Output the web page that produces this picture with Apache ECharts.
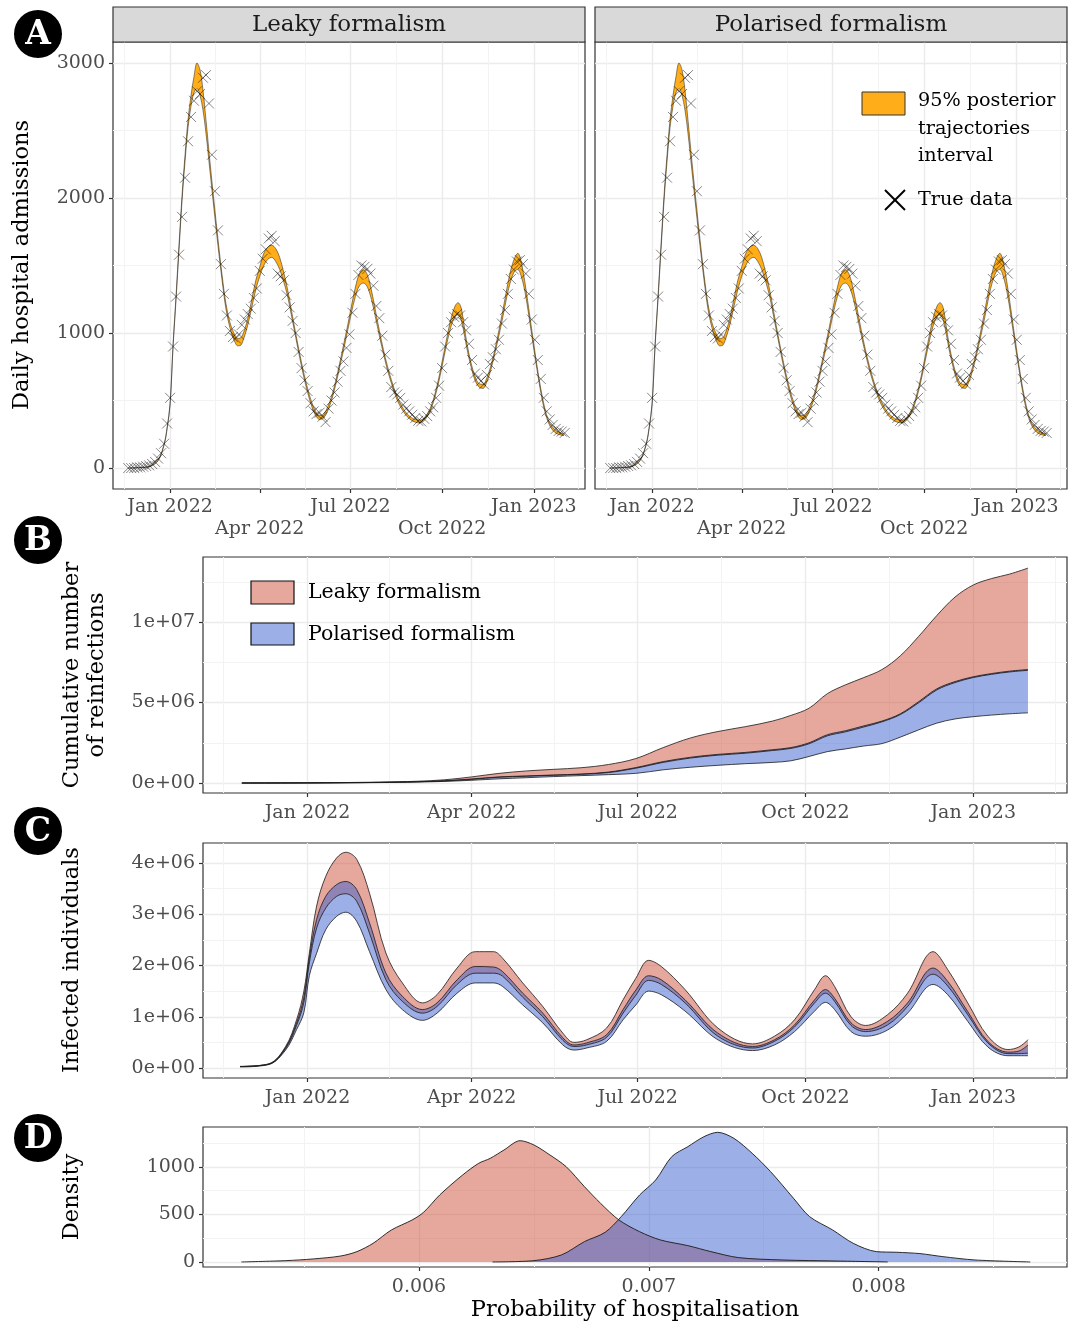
<!DOCTYPE html>
<html>
<head>
<meta charset="utf-8" />
<title>Admissions, reinfections and infections</title>
<script src="https://cdn.jsdelivr.net/npm/echarts@6/dist/echarts.min.js"></script>
<style>
  html, body { margin: 0; padding: 0; background: #fff; }
  #main { width: 1077px; height: 1325px; }
</style>
</head>
<body>
<div id="main"></div>
<script type="text/javascript">

var FONT = "'DejaVu Serif', serif";
var DAY = 86400000;
var T0 = Date.UTC(2022, 0, 1);
function t(d) { return T0 + d * DAY; }

// date axis: days after 1 Jan 2022
var monthDays = [0, 90, 181, 273, 365];
var monthLabels = ['Jan 2022', 'Apr 2022', 'Jul 2022', 'Oct 2022', 'Jan 2023'];
var minorDays = [-46, 45, 135.5, 227, 319, 410];
var dayMin = -57.3, dayMax = 416.4;

// ---- panel A : daily hospital admissions ----
var obsStart = -42, obsStep = 3;   // observations every 3 days
var obsValues = [0,0,0,5,5,10,15,20,30,45,70,110,180,330,
  520,900,1270,1580,1860,2150,2420,2600,2720,2790,2770,2890,2910,2700,2320,2050,1760,1510,1290,1130,
  1015,970,960,990,1060,1100,1140,1180,1260,1330,1460,1550,1620,1700,1720,1680,1440,1420,1390,1280,
  1190,1090,1000,860,740,650,570,480,420,400,410,380,340,440,500,560,640,720,790,890,990,
  1150,1290,1430,1500,1490,1475,1440,1350,1200,1110,980,840,720,600,560,545,520,470,440,420,
  395,370,350,345,365,385,420,450,520,610,740,900,1000,1080,1120,1140,1130,1080,1020,920,
  800,700,670,645,620,690,770,820,880,950,1070,1170,1290,1400,1470,1530,1540,1510,1440,1290,
  1100,950,800,660,520,420,360,320,290,275,270,260];

var ribDays = [-42,-30,-20,-12,-6,-3,0,3,6,9,12,15,18,21,24,27,30,33,36,40,44,48,52,56,60,64,68,71,74,78,
  82,86,90,94,98,102,106,110,114,118,122,126,130,134,138,142,146,150,154,158,162,166,170,174,178,182,186,190,194,198,
  202,206,210,214,218,222,226,230,234,238,242,246,250,254,258,262,266,270,274,278,282,286,289,292,295,298,302,306,310,314,
  318,322,326,330,334,338,342,346,349,352,356,360,364,368,372,376,380,384,388,392,395];
var ribLow = [0,3,12,55,170,290,470,900,1250,1620,1980,2270,2520,2680,2780,2810,2760,2650,2480,2200,
  1920,1650,1400,1180,1040,950,905,910,960,1060,1190,1320,1420,1500,1545,1560,1530,1470,1380,1270,
  1120,970,820,680,560,460,390,360,370,420,500,610,740,870,1010,1150,1270,1350,1370,1340,
  1250,1120,980,850,730,630,540,470,420,380,355,340,335,345,380,440,530,650,790,930,
  1050,1120,1135,1100,1000,880,750,650,600,590,640,730,850,980,1120,1270,1390,1460,1470,1430,
  1310,1130,930,740,560,420,330,280,255,245,240];
var ribHigh = [0,5,15,60,180,300,480,920,1280,1660,2020,2320,2580,2760,2900,3000,2950,2800,2580,2270,
  1980,1700,1440,1220,1080,1000,960,965,1010,1110,1250,1390,1490,1590,1635,1650,1625,1560,1450,1320,
  1160,1000,850,710,590,490,420,390,400,450,530,640,770,910,1050,1200,1340,1440,1470,1430,
  1320,1170,1020,880,760,655,565,495,440,400,375,360,355,365,400,460,555,680,825,975,
  1110,1200,1225,1190,1060,920,780,680,625,620,670,760,880,1020,1170,1330,1470,1560,1590,1540,
  1380,1180,970,770,590,445,350,300,275,260,255];

// ---- panel B : cumulative reinfections (millions) ----
var cumDays = [-36,-20,0,20,40,60,75,90,105,120,135,150,165,180,195,210,225,240,255,265,275,285,295,305,315,325,335,345,355,365,375,385,395];
var cumLeakyHigh = [0,0.005,0.01,0.03,0.06,0.11,0.2,0.38,0.6,0.75,0.85,0.95,1.15,1.52,2.2,2.8,3.2,3.5,3.85,4.2,4.65,5.55,6.1,6.55,7.05,7.9,9.1,10.4,11.55,12.3,12.7,12.98,13.35];
var cumLeakyLow = [0,0.003,0.007,0.018,0.037,0.075,0.13,0.23,0.36,0.42,0.48,0.54,0.65,0.92,1.28,1.55,1.73,1.85,2.02,2.15,2.44,2.93,3.18,3.48,3.8,4.25,4.98,5.78,6.24,6.55,6.75,6.9,7.0];
var cumPolHigh = [0,0.003,0.008,0.02,0.04,0.08,0.14,0.25,0.38,0.44,0.5,0.56,0.68,0.96,1.33,1.6,1.78,1.9,2.07,2.2,2.5,3.0,3.25,3.55,3.85,4.3,5.05,5.85,6.3,6.6,6.8,6.95,7.05];
var cumPolLow = [0,0.002,0.006,0.015,0.03,0.06,0.1,0.17,0.26,0.33,0.4,0.46,0.52,0.6,0.82,0.98,1.1,1.2,1.28,1.38,1.65,1.95,2.12,2.3,2.45,2.85,3.3,3.72,3.98,4.12,4.22,4.3,4.36];

// ---- panel C : infected individuals (millions) ----
var infDays = [-37,-21,-12,-6,-2,1,5,10,16,21,27,34,43,52,63,71,82,92,102,107,118,129,140,146,153,164,173,180,187,194,
  207,225,244,256,267,278,284,289,298,306,318,329,343,351,362,373,384,390,395];
var infLeakyHigh = [0.03,0.085,0.42,0.94,1.5,2.24,3.16,3.74,4.1,4.21,4.07,3.41,2.24,1.66,1.27,1.43,1.95,2.27,2.27,2.14,
  1.66,1.2,0.68,0.5,0.55,0.78,1.33,1.75,2.1,1.98,1.53,0.78,0.47,0.62,0.94,1.53,1.8,1.59,1.0,0.83,
  1.04,1.46,2.27,1.92,1.27,0.62,0.36,0.41,0.55];
var infPolHigh = [0.03,0.08,0.4,0.88,1.38,2.15,2.9,3.35,3.58,3.64,3.48,2.83,1.85,1.4,1.14,1.27,1.72,1.98,1.97,1.88,
  1.46,1.07,0.59,0.45,0.49,0.65,1.14,1.52,1.8,1.72,1.33,0.68,0.42,0.55,0.84,1.33,1.53,1.36,0.88,0.75,
  0.91,1.27,1.95,1.69,1.1,0.52,0.31,0.33,0.45];
var infLeakyLow = [0.03,0.075,0.38,0.83,1.28,2.05,2.73,3.12,3.35,3.4,3.25,2.63,1.72,1.3,1.07,1.2,1.63,1.85,1.85,1.79,
  1.38,1.0,0.54,0.42,0.45,0.6,1.07,1.42,1.71,1.63,1.27,0.62,0.39,0.52,0.8,1.27,1.46,1.3,0.83,0.71,
  0.84,1.2,1.83,1.6,1.04,0.49,0.28,0.28,0.29];
var infPolLow = [0.02,0.07,0.35,0.75,1.08,1.8,2.24,2.7,2.96,3.04,2.86,2.27,1.53,1.14,0.93,1.07,1.46,1.66,1.66,1.59,
  1.23,0.88,0.45,0.35,0.39,0.52,0.94,1.23,1.5,1.43,1.11,0.55,0.34,0.45,0.71,1.11,1.28,1.14,0.71,0.62,
  0.74,1.07,1.63,1.43,0.91,0.41,0.24,0.24,0.24];

// ---- panel D : posterior density of hospitalisation probability ----
var densLeakyX = [0.005227,0.00542,0.00554,0.00566,0.00573,0.0058,0.00588,0.00597,0.00602,0.00609,0.00619,0.00626,0.00631,0.00637,0.00644,
  0.0065,0.00657,0.00664,0.00672,0.00679,0.00687,0.00696,0.00705,0.00717,0.00727,0.00739,0.00758,0.00782,0.00804];
var densLeakyY = [0,14,32,63,109,196,337,442,523,705,916,1039,1091,1179,1277,1232,1126,1004,793,618,442,319,232,172,109,46,21,10,0];
var densPolX = [0.00632,0.0065,0.00662,0.00672,0.00681,0.00688,0.00696,0.00703,0.0071,0.00717,0.00724,0.0073,0.00737,0.00745,0.00753,
  0.00763,0.0077,0.0078,0.00789,0.00799,0.00808,0.00818,0.00828,0.00842,0.00866];
var densPolY = [0,14,74,214,312,477,705,863,1109,1214,1319,1365,1302,1144,951,670,477,337,196,109,102,88,56,21,0];

// tick labels
var admTicks = [0, 1000, 2000, 3000], admLabels = ['0', '1000', '2000', '3000'], admMinor = [500, 1500, 2500];
var cumTicks = [0, 5, 10], cumLabels = ['0e+00', '5e+06', '1e+07'], cumMinor = [2.5, 7.5, 12.5];
var infTicks = [0, 1, 2, 3, 4], infLabels = ['0e+00', '1e+06', '2e+06', '3e+06', '4e+06'], infMinor = [0.5, 1.5, 2.5, 3.5];
var densTicks = [0, 500, 1000], densLabels = ['0', '500', '1000'], densMinor = [250, 750, 1250];
var probTicks = [0.006, 0.007, 0.008], probLabels = ['0.006', '0.007', '0.008'], probMinor = [0.0055, 0.0065, 0.0075, 0.0085];

var RED = '#CD4F39', BLUE = '#3A5FCD', ORANGE = '#FFA500';

function nearest(arr, v) {
  var best = 0;
  for (var i = 1; i < arr.length; i++) if (Math.abs(arr[i] - v) < Math.abs(arr[best] - v)) best = i;
  return best;
}

// major/minor axes drawing ticks, labels and grid lines from custom values
function guideAxes(dim, g, min, max, ticks, labels, minors, opts) {
  var major = {
    type: 'value', gridIndex: g, min: min, max: max, position: opts.pos,
    axisLine: { show: false, onZero: false },
    axisTick: { show: opts.show, customValues: ticks, length: 4, lineStyle: { color: '#333', width: 1.2 } },
    axisLabel: {
      show: opts.show, customValues: ticks, margin: opts.margin, lineHeight: 22,
      color: '#4D4D4D', fontFamily: FONT, fontSize: 19,
      formatter: function (v) {
        var i = nearest(ticks, v);
        return (opts.twoRows && i % 2 === 1) ? '\n' + labels[i] : labels[i];
      }
    },
    splitLine: { show: true, lineStyle: { color: '#EBEBEB', width: 1.4 } }
  };
  var minor = {
    type: 'value', gridIndex: g, min: min, max: max, position: dim === 'x' ? 'top' : 'right',
    axisLine: { show: false, onZero: false },
    axisTick: { show: false, customValues: minors },
    axisLabel: { show: false, customValues: minors },
    splitLine: { show: true, lineStyle: { color: '#F3F3F3', width: 1 } }
  };
  return [major, minor];
}

// hidden time axis that carries the date series of a grid
function timeAxis(g) {
  return { type: 'time', gridIndex: g, min: t(dayMin), max: t(dayMax), show: false, axisLine: { onZero: false } };
}

function ribbon(xi, yi, stack, days, lo, hi, color, opacity, lineW) {
  var loData = days.map(function (d, i) { return [t(d), lo[i]]; });
  var diffData = days.map(function (d, i) { return [t(d), hi[i] - lo[i]]; });
  var common = { type: 'line', xAxisIndex: xi, yAxisIndex: yi, stack: stack, symbol: 'none', smooth: 0.35, silent: true };
  return [
    Object.assign({}, common, { data: loData, lineStyle: { color: '#1a1a1a', width: lineW } }),
    Object.assign({}, common, { data: diffData, lineStyle: { color: '#1a1a1a', width: lineW }, areaStyle: { color: color, opacity: opacity } })
  ];
}

var obsData = obsValues.map(function (v, i) { return [t(obsStart + i * obsStep), v]; });

function crosses(xi, yi) {
  return {
    type: 'scatter', xAxisIndex: xi, yAxisIndex: yi, data: obsData, silent: true,
    symbol: 'path://M0,0L10,10M10,0L0,10', symbolSize: 10,
    itemStyle: { color: 'rgba(0,0,0,0)', borderColor: 'rgba(0,0,0,0.6)', borderWidth: 1 },
    z: 5
  };
}

function density(xs, ys, color) {
  return {
    type: 'line', xAxisIndex: 12, yAxisIndex: 8, symbol: 'none', smooth: 0.3, silent: true,
    data: xs.map(function (x, i) { return [x, ys[i]]; }),
    lineStyle: { color: '#1a1a1a', width: 0.9 },
    areaStyle: { color: color, opacity: 0.5 }
  };
}

var gridBase = { show: true, borderColor: '#333', borderWidth: 1.2, backgroundColor: 'transparent' };
var grids = [
  Object.assign({ left: 113, top: 42, width: 472, height: 447 }, gridBase),
  Object.assign({ left: 595, top: 42, width: 472, height: 447 }, gridBase),
  Object.assign({ left: 203, top: 557, width: 864, height: 236 }, gridBase),
  Object.assign({ left: 203, top: 843, width: 864, height: 235 }, gridBase),
  Object.assign({ left: 203, top: 1127, width: 864, height: 140 }, gridBase)
];

// x axes: per date grid [time(series), days major, days minor]; grid 4: [major, minor]
var xAxes = [].concat(
  [timeAxis(0)], guideAxes('x', 0, dayMin, dayMax, monthDays, monthLabels, minorDays, { show: true, pos: 'bottom', margin: 7, twoRows: true }),
  [timeAxis(1)], guideAxes('x', 1, dayMin, dayMax, monthDays, monthLabels, minorDays, { show: true, pos: 'bottom', margin: 7, twoRows: true }),
  [timeAxis(2)], guideAxes('x', 2, dayMin, dayMax, monthDays, monthLabels, minorDays, { show: true, pos: 'bottom', margin: 9 }),
  [timeAxis(3)], guideAxes('x', 3, dayMin, dayMax, monthDays, monthLabels, minorDays, { show: true, pos: 'bottom', margin: 9 }),
  guideAxes('x', 4, 0.00506, 0.00882, probTicks, probLabels, probMinor, { show: true, pos: 'bottom', margin: 9 })
);

var yAxes = [].concat(
  guideAxes('y', 0, -155, 3155, admTicks, admLabels, admMinor, { show: true, pos: 'left', margin: 8 }),
  guideAxes('y', 1, -155, 3155, admTicks, admLabels, admMinor, { show: false, pos: 'left', margin: 8 }),
  guideAxes('y', 2, -0.62, 14.04, cumTicks, cumLabels, cumMinor, { show: true, pos: 'left', margin: 8 }),
  guideAxes('y', 3, -0.195, 4.39, infTicks, infLabels, infMinor, { show: true, pos: 'left', margin: 8 }),
  guideAxes('y', 4, -53, 1421, densTicks, densLabels, densMinor, { show: true, pos: 'left', margin: 8 })
);

var series = [].concat(
  ribbon(0, 0, 'ribL', ribDays, ribLow, ribHigh, ORANGE, 0.9, 0.5), [crosses(0, 0)],
  ribbon(3, 2, 'ribR', ribDays, ribLow, ribHigh, ORANGE, 0.9, 0.5), [crosses(3, 2)],
  ribbon(6, 4, 'cumLeaky', cumDays, cumLeakyLow, cumLeakyHigh, RED, 0.5, 0.8),
  ribbon(6, 4, 'cumPol', cumDays, cumPolLow, cumPolHigh, BLUE, 0.5, 0.8),
  ribbon(9, 6, 'infLeaky', infDays, infLeakyLow, infLeakyHigh, RED, 0.5, 0.8),
  ribbon(9, 6, 'infPol', infDays, infPolLow, infPolHigh, BLUE, 0.5, 0.8),
  [density(densLeakyX, densLeakyY, RED), density(densPolX, densPolY, BLUE)]
);

function label(x, y, text, size, extra) {
  return Object.assign({
    type: 'text', x: x, y: y, z: 100,
    style: { text: text, fill: '#000', font: size + 'px ' + FONT, textAlign: 'center', textVerticalAlign: 'middle' }
  }, extra || {});
}
function badge(cx, cy, letter) {
  return [
    { type: 'circle', shape: { cx: cx, cy: cy, r: 24 }, style: { fill: '#000' }, z: 100 },
    { type: 'text', x: cx, y: cy + 1, z: 101,
      style: { text: letter, fill: '#fff', font: 'bold 33px ' + FONT, textAlign: 'center', textVerticalAlign: 'middle' } }
  ];
}
function strip(x, text) {
  return [
    { type: 'rect', shape: { x: x, y: 7, width: 472, height: 35 }, style: { fill: '#D9D9D9', stroke: '#333', lineWidth: 1.2 }, z: 100 },
    { type: 'text', x: x + 236, y: 25, z: 101,
      style: { text: text, fill: '#1A1A1A', font: '23px ' + FONT, textAlign: 'center', textVerticalAlign: 'middle' } }
  ];
}
function leftText(x, y, text, size) {
  return { type: 'text', x: x, y: y, z: 100,
    style: { text: text, fill: '#000', font: size + 'px ' + FONT, textAlign: 'left', textVerticalAlign: 'middle' } };
}
var ROT = Math.PI / 2;

var graphics = [].concat(
  badge(38, 34, 'A'), badge(38, 540, 'B'), badge(38, 831, 'C'), badge(38, 1138, 'D'),
  strip(113, 'Leaky formalism'), strip(595, 'Polarised formalism'),
  [
    label(22, 265, 'Daily hospital admissions', 22.5, { rotation: ROT }),
    { type: 'text', x: 85, y: 675, rotation: ROT, z: 100,
      style: { text: 'Cumulative number\nof reinfections', fill: '#000', font: '22.5px ' + FONT, lineHeight: 25,
        textAlign: 'center', textVerticalAlign: 'middle' } },
    label(72, 960, 'Infected individuals', 22.5, { rotation: ROT }),
    label(72, 1197, 'Density', 22.5, { rotation: ROT }),
    label(635, 1310, 'Probability of hospitalisation', 22.5),
    // legend, panel A
    { type: 'rect', shape: { x: 862, y: 92, width: 43, height: 23 }, style: { fill: 'rgba(255,165,0,0.9)', stroke: '#333', lineWidth: 1 }, z: 100 },
    leftText(918, 101, '95% posterior', 19.2),
    leftText(918, 129, 'trajectories', 19.2),
    leftText(918, 156, 'interval', 19.2),
    { type: 'line', shape: { x1: 885, y1: 190, x2: 905, y2: 210 }, style: { stroke: '#000', lineWidth: 2 }, z: 100 },
    { type: 'line', shape: { x1: 885, y1: 210, x2: 905, y2: 190 }, style: { stroke: '#000', lineWidth: 2 }, z: 100 },
    leftText(918, 200, 'True data', 19.2),
    // legend, panel B
    { type: 'rect', shape: { x: 251, y: 581, width: 43, height: 23 }, style: { fill: 'rgba(205,79,57,0.5)', stroke: '#111', lineWidth: 1.2 }, z: 100 },
    leftText(308, 593, 'Leaky formalism', 20.5),
    { type: 'rect', shape: { x: 251, y: 623, width: 43, height: 22 }, style: { fill: 'rgba(58,95,205,0.5)', stroke: '#111', lineWidth: 1.2 }, z: 100 },
    leftText(308, 635, 'Polarised formalism', 20.5)
  ]
);

var myChart = echarts.init(document.getElementById('main'), null, { renderer: 'canvas' });
myChart.setOption({
  animation: false,
  backgroundColor: '#fff',
  grid: grids,
  xAxis: xAxes,
  yAxis: yAxes,
  series: series,
  graphic: { elements: graphics }
});
</script>
</body>
</html>
